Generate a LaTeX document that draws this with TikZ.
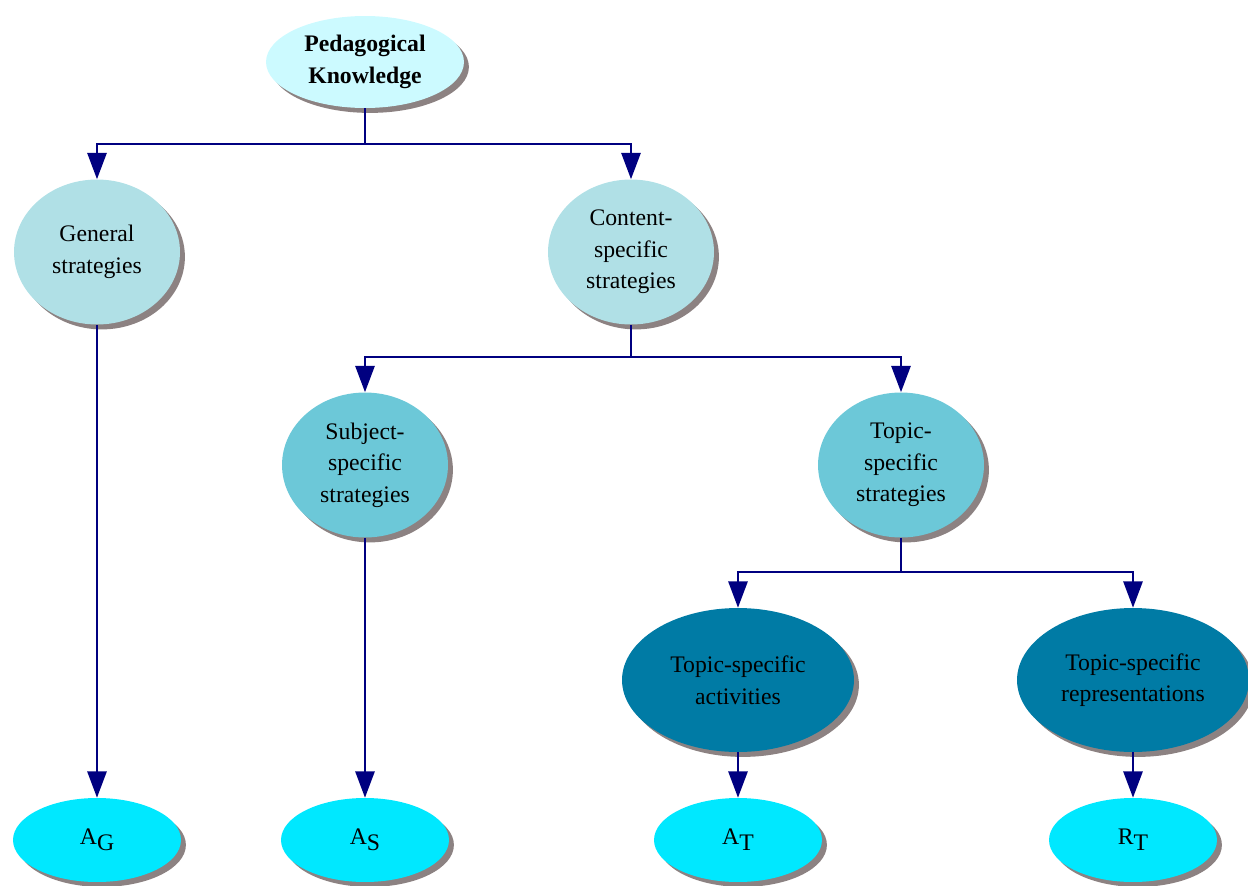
\documentclass[tikz,border=0pt]{standalone}
\usepackage{fontspec}
\setmainfont{Liberation Serif}
\usepackage{tikz}
\usetikzlibrary{shapes,arrows.meta,positioning,shadows}
\usepackage{xcolor}

\definecolor{rootcyan}{RGB}{204,250,255}
\definecolor{stratblue}{RGB}{176,224,230}
\definecolor{midteal}{RGB}{108,200,216}
\definecolor{darkteal}{RGB}{0,123,165}
\definecolor{leafcyan}{RGB}{0,232,255}
\definecolor{navyline}{RGB}{0,0,128}
\definecolor{shadowgray}{RGB}{140,130,130}

\begin{document}
\begin{tikzpicture}[
    x=0.02cm, y=-0.02cm,
    base/.style={ellipse, inner sep=0pt, align=center, font=\fontsize{13.5}{18}\selectfont,
        drop shadow={shadow xshift=2.8pt, shadow yshift=-2.8pt, fill=shadowgray, opacity=1}},
    rootnode/.style={base, fill=rootcyan, minimum width=3.96cm, minimum height=1.84cm,
        font=\fontsize{13.5}{18}\selectfont\bfseries},
    strat/.style={base, fill=stratblue, minimum width=3.32cm, minimum height=2.9cm},
    substrat/.style={base, fill=midteal, minimum width=3.32cm, minimum height=2.9cm},
    topicbox/.style={base, fill=darkteal, minimum width=4.64cm, minimum height=2.88cm},
    leaf/.style={base, fill=leafcyan, minimum width=3.36cm, minimum height=1.68cm},
    arrow/.style={-{Triangle[length=15pt,width=11pt]}, draw=navyline, line width=1.1pt}
]
\useasboundingbox (0,0) rectangle (1248,886);

% Root
\node[rootnode] (ped) at (365,62) {Pedagogical\\Knowledge};

% Strategies
\node[strat] (gen) at (97,252) {General\\strategies};
\node[strat] (con) at (631,252) {Content-\\specific\\strategies};

\node[substrat] (subj) at (365,465) {Subject-\\specific\\strategies};
\node[substrat] (topic) at (901,465) {Topic-\\specific\\strategies};

\node[topicbox] (act) at (738,680) {Topic-specific\\activities};
\node[topicbox] (rep) at (1133,680) {Topic-specific\\representations};

% Leaves
\node[leaf] (ag) at (97,840) {A\raisebox{-0.55ex}{G}};
\node[leaf] (as) at (365,840) {A\raisebox{-0.55ex}{S}};
\node[leaf] (at) at (738,840) {A\raisebox{-0.55ex}{T}};
\node[leaf] (rt) at (1133,840) {R\raisebox{-0.55ex}{T}};

% Junctions
\coordinate (j1) at (365,144);
\coordinate (j2) at (631,357);
\coordinate (j3) at (901,572);

% Arrows
\draw[arrow] (ped.south) -- (j1) -| (gen.north);
\draw[arrow] (j1) -| (con.north);
\draw[arrow] (con.south) -- (j2) -| (subj.north);
\draw[arrow] (j2) -| (topic.north);
\draw[arrow] (topic.south) -- (j3) -| (act.north);
\draw[arrow] (j3) -| (rep.north);

\draw[arrow] (gen) -- (ag);
\draw[arrow] (subj) -- (as);
\draw[arrow] (act) -- (at);
\draw[arrow] (rep) -- (rt);

\end{tikzpicture}
\end{document}
